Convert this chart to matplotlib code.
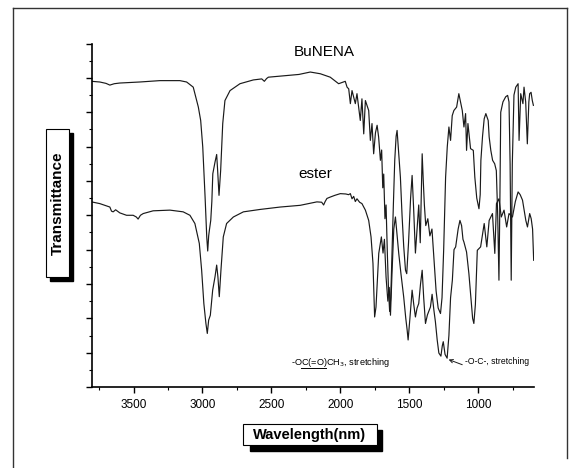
import matplotlib
matplotlib.use('Agg')
import matplotlib.pyplot as plt
from matplotlib.patches import Rectangle
from matplotlib.lines import Line2D
from matplotlib.ticker import MultipleLocator, NullFormatter

plt.rcParams['font.family'] = ['Liberation Sans', 'DejaVu Sans']

# spectra (x in cm-1, y in arbitrary transmittance units)
bunena_wn = [3805, 3745, 3700, 3672, 3640, 3600, 3455, 3309, 3164, 3115, 3067, 3030, 3013, 2998,
             2981, 2969, 2962, 2955, 2950, 2940, 2932, 2925, 2909, 2897, 2890, 2880, 2868, 2853,
             2837, 2800, 2728, 2631, 2570, 2551, 2535, 2522, 2388, 2300, 2218, 2145, 2073, 2012,
             1964, 1951, 1939, 1927, 1915, 1891, 1879, 1855, 1843, 1830, 1818, 1794, 1782, 1770,
             1758, 1745, 1733, 1722, 1709, 1700, 1692, 1685, 1676, 1668, 1658, 1650, 1642, 1634,
             1625, 1615, 1605, 1595, 1588, 1578, 1564, 1552, 1540, 1527, 1518, 1505, 1490, 1479,
             1468, 1455, 1443, 1431, 1420, 1412, 1406, 1398, 1390, 1380, 1365, 1350, 1335, 1320,
             1305, 1290, 1273, 1262, 1250, 1236, 1224, 1212, 1200, 1188, 1176, 1156, 1140, 1128,
             1115, 1103, 1091, 1084, 1074, 1055, 1035, 1024, 1010, 994, 985, 980, 968, 956, 944,
             927, 920, 908, 895, 880, 868, 858, 849, 842, 836, 820, 800, 786, 776, 768, 760, 752,
             740, 727, 710, 703, 691, 675, 667, 655, 643, 632, 626, 616, 607, 599]
bunena_t = [8.90, 8.88, 8.84, 8.79, 8.83, 8.85, 8.88, 8.92, 8.92, 8.88, 8.73, 8.15, 7.76, 6.99,
            5.53, 4.37, 3.96, 4.40, 4.56, 4.85, 5.40, 6.21, 6.55, 6.77, 6.31, 5.58, 6.31, 7.67,
            8.34, 8.63, 8.83, 8.94, 8.97, 8.90, 8.98, 9.02, 9.07, 9.10, 9.17, 9.12, 9.02, 8.83,
            8.90, 8.73, 8.68, 8.25, 8.63, 8.25, 8.54, 7.76, 8.39, 7.37, 8.34, 8.05, 7.18, 7.67,
            6.79, 7.40, 7.62, 7.28, 6.60, 6.90, 5.80, 6.20, 4.90, 5.30, 3.80, 2.80, 2.20, 2.60,
            3.90, 5.30, 6.60, 7.30, 7.47, 6.90, 6.11, 5.00, 4.10, 3.40, 3.30, 4.20, 5.50, 6.16,
            5.20, 3.90, 4.60, 5.30, 4.20, 5.60, 6.79, 6.00, 5.30, 4.70, 4.90, 4.40, 4.60, 3.70,
            2.80, 2.30, 2.14, 2.60, 4.00, 6.11, 6.99, 7.57, 7.18, 7.90, 8.05, 8.15, 8.54, 8.30,
            8.05, 7.57, 7.96, 6.89, 7.67, 6.94, 6.89, 6.11, 5.50, 5.19, 5.60, 6.60, 7.30, 7.81, 7.96,
            7.76, 7.28, 6.89, 6.60, 6.50, 6.30, 5.00, 3.11, 5.50, 8.00, 8.30, 8.45, 8.49, 8.30, 6.50, 3.11, 6.50,
            8.50, 8.73, 8.83, 7.18, 8.54, 8.25, 8.73, 8.30, 7.08, 8.30, 8.54, 8.58, 8.34, 8.20]

ester_wn = [3805, 3745, 3700, 3672, 3660, 3648, 3630, 3600, 3551, 3503, 3480, 3467, 3450, 3430,
            3358, 3236, 3140, 3091, 3055, 3023, 3006, 2990, 2975, 2965, 2955, 2943, 2926, 2909,
            2897, 2888, 2878, 2866, 2849, 2825, 2776, 2703, 2582, 2436, 2291, 2170, 2135, 2121,
            2110, 2097, 2073, 2040, 2000, 1960, 1940, 1927, 1915, 1903, 1891, 1879, 1860, 1843,
            1818, 1794, 1777, 1763, 1751, 1741, 1730, 1721, 1702, 1690, 1680, 1668, 1655, 1645,
            1636, 1625, 1612, 1600, 1590, 1576, 1560, 1540, 1525, 1515, 1508, 1495, 1479, 1467,
            1455, 1443, 1431, 1418, 1406, 1395, 1382, 1368, 1346, 1334, 1321, 1310, 1297, 1285,
            1270, 1260, 1253, 1240, 1225, 1212, 1200, 1187, 1175, 1163, 1145, 1132, 1120, 1110,
            1103, 1084, 1067, 1050, 1040, 1031, 1020, 1006, 982, 956, 937, 920, 896, 879, 867,
            849, 832, 812, 793, 776, 751, 730, 710, 695, 678, 654, 642, 626, 615, 605, 597]
ester_t = [5.39, 5.34, 5.28, 5.24, 5.12, 5.10, 5.16, 5.07, 5.00, 5.00, 4.95, 4.89, 5.00, 5.05,
           5.13, 5.15, 5.10, 5.00, 4.76, 4.18, 3.40, 2.43, 1.85, 1.56, 1.95, 2.09, 2.82, 3.21,
           3.55, 3.21, 2.63, 3.40, 4.37, 4.76, 4.95, 5.10, 5.17, 5.24, 5.29, 5.39, 5.38, 5.30,
           5.40, 5.49, 5.53, 5.58, 5.63, 5.62, 5.60, 5.63, 5.48, 5.55, 5.40, 5.48, 5.38, 5.34,
           5.15, 4.85, 4.37, 3.60, 2.04, 2.33, 3.20, 3.89, 4.37, 3.90, 4.30, 3.20, 2.50, 2.90,
           2.09, 3.30, 4.60, 4.95, 4.50, 3.89, 3.30, 2.62, 2.00, 1.66, 1.37, 2.00, 2.82, 2.40,
           2.04, 2.30, 2.43, 3.00, 3.40, 2.60, 1.85, 2.10, 2.33, 2.70, 2.24, 1.90, 1.37, 0.99,
           0.90, 1.20, 1.32, 0.95, 0.84, 1.50, 2.60, 3.11, 4.00, 4.08, 4.60, 4.85, 4.70, 4.30,
           4.22, 3.93, 3.30, 2.50, 2.00, 1.85, 2.40, 3.98, 4.08, 4.76, 4.08, 4.85, 5.05, 3.89, 5.34,
           5.48, 4.95, 5.15, 4.66, 5.05, 4.95, 5.40, 5.68, 5.60, 5.44, 4.85, 4.66, 5.05, 4.90, 4.60, 3.69]

fig = plt.figure(figsize=(5.72, 4.68), dpi=100)
ax = fig.add_axes([0.160, 0.173, 0.773, 0.734])

ax.plot(bunena_wn, bunena_t, color='#1a1a1a', lw=0.85)
ax.plot(ester_wn, ester_t, color='#1a1a1a', lw=0.85)

ax.set_xlim(3805, 597)
ax.set_ylim(0, 10)
ax.xaxis.set_major_locator(MultipleLocator(500))
ax.xaxis.set_minor_locator(MultipleLocator(250))
ax.yaxis.set_major_locator(MultipleLocator(1))
ax.yaxis.set_minor_locator(MultipleLocator(0.5))
ax.yaxis.set_major_formatter(NullFormatter())
ax.tick_params(which='major', direction='out', length=4.5, width=1, labelsize=8.5, pad=4)
ax.tick_params(which='minor', direction='out', length=2.5, width=0.8)
for s in ['top', 'right']:
    ax.spines[s].set_visible(False)
for s in ['left', 'bottom']:
    ax.spines[s].set_linewidth(1.2)

ax.text(2116, 9.74, 'BuNENA', ha='center', va='center', fontsize=11)
ax.text(2182, 6.19, 'ester', ha='center', va='center', fontsize=11)
t1 = ax.text(2360, 0.70, '-OC(=O)CH$_3$, stretching', ha='left', va='center', fontsize=6.6)
ax.annotate('-O-C-, stretching', xy=(1214, 0.80), xytext=(1095, 0.75),
            ha='left', va='center', fontsize=6.2,
            arrowprops=dict(arrowstyle='->', lw=0.7, color='#1a1a1a',
                            shrinkA=0, shrinkB=0, relpos=(0, 0)))

# underline "C(=O)" inside the first annotation
fig.canvas.draw()
r = fig.canvas.get_renderer()
bb = t1.get_window_extent(r)
w_pre = r.get_text_width_height_descent('-O', t1.get_fontproperties(), ismath=False)[0]
w_mid = r.get_text_width_height_descent('-OC(=O)', t1.get_fontproperties(), ismath=False)[0]
inv = fig.transFigure.inverted()
(x0, y0) = inv.transform((bb.x0 + w_pre, bb.y0 + 1))
(x1, _) = inv.transform((bb.x0 + w_mid, bb.y0 + 1))
fig.add_artist(Line2D([x0, x1], [y0, y0], color='black', lw=0.7))

# outer frame of the scanned figure
W, H = 572.0, 468.0
fig.add_artist(Line2D([13 / W, 13 / W], [0, 1 - 8 / H], color='#333333', lw=1))
fig.add_artist(Line2D([13 / W, 567 / W], [1 - 8 / H, 1 - 8 / H], color='#333333', lw=1))
fig.add_artist(Line2D([567 / W, 567 / W], [1 - 8 / H, 1 - 458 / H], color='#333333', lw=1))

# y label box with shadow
fig.add_artist(Rectangle((50 / W, 1 - 281 / H), 23 / W, 148 / H, transform=fig.transFigure,
                         facecolor='black', edgecolor='black'))
fig.add_artist(Rectangle((46 / W, 1 - 277 / H), 23 / W, 148 / H, transform=fig.transFigure,
                         facecolor='white', edgecolor='black', lw=0.8))
fig.text(57.5 / W, 1 - 203 / H, 'Transmittance', rotation=90, ha='center', va='center',
         fontsize=11, fontweight='bold')

# x label box with shadow
fig.add_artist(Rectangle((250 / W, 1 - 451 / H), 132 / W, 21 / H, transform=fig.transFigure,
                         facecolor='black', edgecolor='black'))
fig.add_artist(Rectangle((243 / W, 1 - 445 / H), 134 / W, 21 / H, transform=fig.transFigure,
                         facecolor='white', edgecolor='black', lw=0.8))
fig.text(310 / W, 1 - 434.5 / H, 'Wavelength(nm)', ha='center', va='center',
         fontsize=10.5, fontweight='bold')

fig.savefig('out.png', dpi=100)
